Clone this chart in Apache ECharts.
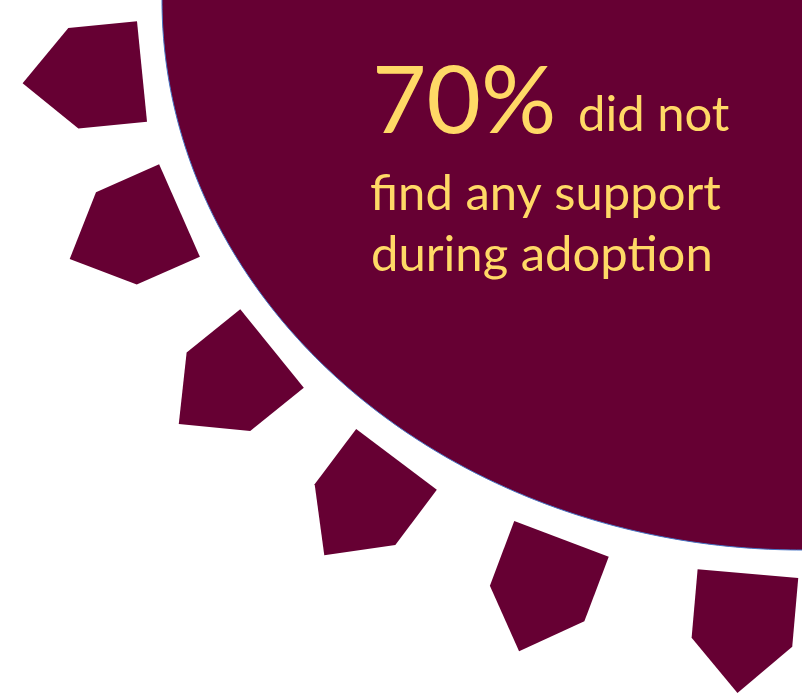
<!DOCTYPE html>
<html>
<head>
<meta charset="utf-8">
<script src="https://cdn.jsdelivr.net/npm/echarts@6/dist/echarts.min.js"></script>
<style>
html,body{margin:0;padding:0;background:#fff;}
#chart{width:807px;height:698px;}
</style>
</head>
<body>
<div id="chart"></div>
<script>
// ---- data ----
const headlineValue = '70%';
const headlineRest = 'did not';
const bodyLines = ['find any support', 'during adoption'];
// quarter disc: centre x, centre y, radius x, radius y (axis units)
const discCentre = [802, 0];
const discRadii = [640, 550];
// gear teeth: centre x, centre y (axis units) and rotation (degrees)
const toothX = [82.3, 124.6, 225.4, 360.4, 540.3, 742.7];
const toothY = [77.4, 234.7, 386.2, 507.4, 595.1, 633.3];
const toothRotate = [95.7, 113.8, 129.0, 143.0, 159.3, 175.0];

const MAROON = '#660033';
const GOLD = '#FFD966';
const FONT = 'Lato';

const chart = echarts.init(document.getElementById('chart'), null, {renderer: 'canvas'});

const toothData = toothX.map((x, i) => ({
  value: [x, toothY[i]],
  symbolRotate: toothRotate[i]
}));

function label(text, x, y, size) {
  return {type: 'text', x: x, y: y, z: 10,
    style: {text: text, fill: GOLD, font: '400 ' + size + 'px ' + FONT, verticalAlign: 'top'}};
}

chart.setOption({
  animation: false,
  backgroundColor: '#ffffff',
  grid: {left: 0, top: 0, width: 802, height: 698, containLabel: false},
  xAxis: {type: 'value', min: 0, max: 802, show: false},
  yAxis: {type: 'value', min: 0, max: 698, inverse: true, show: false},
  series: [
    {
      type: 'custom',
      clip: true,
      data: [[discCentre[0], discCentre[1], discRadii[0], discRadii[1]]],
      renderItem: function (params, api) {
        const c = api.coord([api.value(0), api.value(1)]);
        const s = api.size([api.value(2), api.value(3)]);
        const pts = [];
        for (let d = 0; d <= 90; d += 0.5) {
          const t = d * Math.PI / 180;
          pts.push([c[0] - s[0] * Math.cos(t), c[1] + s[1] * Math.sin(t)]);
        }
        return {
          type: 'group',
          children: [
            {type: 'polygon', shape: {points: pts.concat([[c[0], c[1]]])}, style: {fill: MAROON}},
            {type: 'polyline', shape: {points: pts}, style: {stroke: '#4472C4', lineWidth: 1, fill: null}}
          ]
        };
      },
      z: 1
    },
    {
      type: 'scatter',
      data: toothData,
      symbol: 'path://M50.5,0 L101,51 L101,120 L0,120 L0,51 Z',
      symbolSize: [101, 120],
      itemStyle: {color: MAROON, opacity: 1},
      z: 2
    }
  ],
  graphic: [
    label(headlineValue, 372, 56, 94),
    label(headlineRest, 578, 91, 49),
    label(bodyLines[0], 370, 170, 49),
    label(bodyLines[1], 371, 231, 49)
  ]
});
</script>
</body>
</html>
